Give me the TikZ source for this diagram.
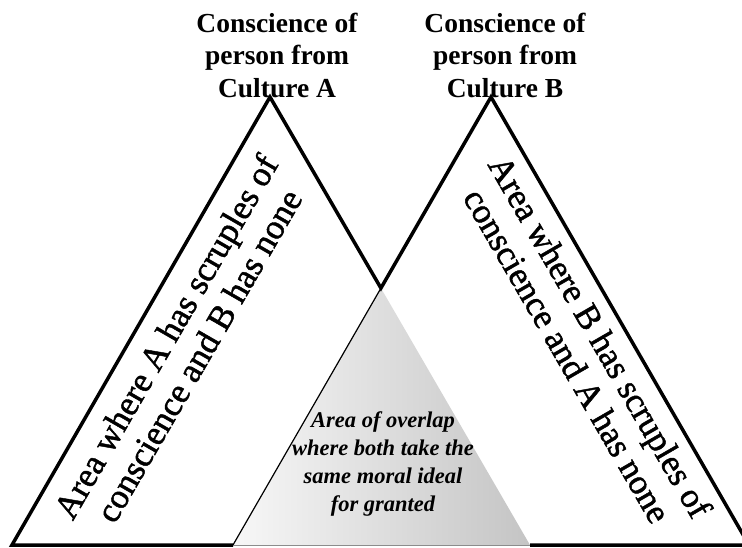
\documentclass[tikz,border=0pt]{standalone}
\usepackage{fontspec}
\setmainfont{Liberation Serif}
\newfontfamily\sidefont[RawFeature={embolden=1.3}]{Liberation Serif}
\begin{document}
\begin{tikzpicture}[x=1pt,y=-1pt,
  thickline/.style={line width=3.5pt, line join=miter, miter limit=10},
  toplabel/.style={font=\fontsize{27.5}{32.5}\selectfont\bfseries, align=center, inner sep=0pt},
  sidelabel/.style={font=\sidefont\fontsize{35}{38}\selectfont, align=center, inner sep=0pt},
  overlaplabel/.style={font=\fontsize{22.5}{28}\selectfont\bfseries\itshape, align=center, inner sep=0pt}]
\useasboundingbox (0,0) rectangle (742,548);
\fill[white] (0,0) rectangle (742,548);
\clip (0,0) rectangle (742,548);
\coordinate (apexA) at (270,97);
\coordinate (apexB) at (491,97);
\coordinate (baseAL) at (12,545);
\coordinate (baseAR) at (530,545);
\coordinate (baseBL) at (233,545);
\coordinate (baseBR) at (749,545);
\coordinate (cross) at (intersection of apexA--baseAR and apexB--baseBL);
\shade[left color=black!3, right color=black!23] (cross) -- (baseAR) -- (baseBL) -- cycle;
\draw[line width=1.2pt] (cross) -- (baseBL);
\draw[black!45, line width=1pt] (baseBL) -- (baseAR);
\draw[thickline] (baseBL) -- (baseAL) -- (apexA) -- (cross) -- (apexB) -- (baseBR) -- (baseAR);
\node[toplabel] (labA) at (277,55) {Conscience of\\person from\\Culture A};
\node[toplabel] (labB) at (505,55) {Conscience of\\person from\\Culture B};
\node[sidelabel, rotate=60] (areaA) at (182,346) {Area where A has scruples of\\conscience and B has none};
\node[sidelabel, rotate=-60] (areaB) at (584,346) {Area where B has scruples of\\conscience and A has none};
\node[overlaplabel] (overlap) at (383,464) {Area of overlap\\where both take the\\same moral ideal\\for granted};
\end{tikzpicture}
\end{document}
